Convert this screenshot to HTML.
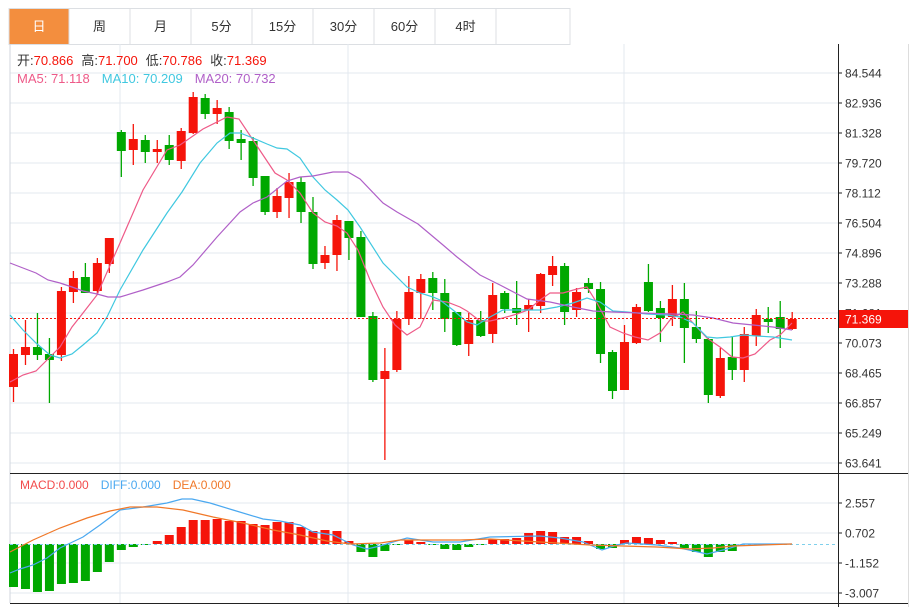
<!DOCTYPE html>
<html><head><meta charset="utf-8"><style>
body{margin:0;background:#fff;width:920px;height:607px;overflow:hidden;font-family:"Liberation Sans","Noto Sans CJK SC",sans-serif}
svg{position:absolute;left:0;top:0}
</style></head><body>
<svg id="s" width="920" height="607" xmlns="http://www.w3.org/2000/svg" font-family="Liberation Sans, Noto Sans CJK SC, sans-serif"></svg>
<script>
const S=document.getElementById('s');let h='';
const R='#f5140a',G='#00a800';
const tabs=['日','周','月','5分','15分','30分','60分','4时',''];
const tx=[9,69,130,191,252,313,374,435,496,570];
for(let i=0;i<9;i++){h+=`<rect x="${tx[i]}" y="8.5" width="${tx[i+1]-tx[i]}" height="36" fill="${i==0?'#f38e3e':'#fff'}" stroke="#dcdfe3"/>`;
h+=`<text x="${(tx[i]+tx[i+1])/2}" y="31" font-size="13" text-anchor="middle" fill="${i==0?'#fff':'#333'}">${tabs[i]}</text>`;}
for(let y=73;y<=463;y+=30)h+=`<line x1="10" x2="838" y1="${y}" y2="${y}" stroke="#e3e9ef"/>`;
for(const y of [503,533,563,593])h+=`<line x1="10" x2="838" y1="${y}" y2="${y}" stroke="#e3e9ef"/>`;
for(const x of [120,348,624])h+=`<line x1="${x}" x2="${x}" y1="44" y2="603" stroke="#e3e9ef"/>`;
h+=`<line x1="10" x2="10" y1="44" y2="603" stroke="#d0d6dc"/>`;
h+=`<line x1="10" x2="908" y1="473.5" y2="473.5" stroke="#222"/><line x1="10" x2="908" y1="603.5" y2="603.5" stroke="#222"/>`;
h+=`<line x1="838.5" x2="838.5" y1="44" y2="607" stroke="#222"/><line x1="908.5" x2="908.5" y1="44" y2="607" stroke="#ddd"/>`;
const pl=['84.544','82.936','81.328','79.720','78.112','76.504','74.896','73.288','71.681','70.073','68.465','66.857','65.249','63.641'];
pl.forEach((t,i)=>{const y=73+30*i;h+=`<line x1="838" x2="842" y1="${y}" y2="${y}" stroke="#222"/><text x="845" y="${y+4.5}" font-size="12" fill="#333">${t}</text>`});
[['2.557',503],['0.702',533],['-1.152',563],['-3.007',593]].forEach(([t,y])=>{h+=`<line x1="838" x2="842" y1="${y}" y2="${y}" stroke="#222"/><text x="845" y="${y+4.5}" font-size="12" fill="#333">${t}</text>`});
h+=`<text x="17" y="65" font-size="13"><tspan fill="#333">开:</tspan><tspan fill="${R}">70.866</tspan><tspan fill="#333" dx="8">高:</tspan><tspan fill="${R}">71.700</tspan><tspan fill="#333" dx="8">低:</tspan><tspan fill="${R}">70.786</tspan><tspan fill="#333" dx="8">收:</tspan><tspan fill="${R}">71.369</tspan></text>`;
h+=`<text x="17" y="83" font-size="13"><tspan fill="#ee5a88">MA5: 71.118</tspan><tspan dx="12" fill="#40c8e0">MA10: 70.209</tspan><tspan dx="12" fill="#b060c8">MA20: 70.732</tspan></text>`;
h+=`<text x="20" y="489" font-size="12"><tspan fill="#f24b4b">MACD:0.000</tspan><tspan dx="12" fill="#4aa8f0">DIFF:0.000</tspan><tspan dx="12" fill="#f07828">DEA:0.000</tspan></text>`;
const C=[['R',354,387,349,402],['R',347,355,320,365],['G',347,355,313,360],['G',354,360,338,403],['R',291,355,287,361],['R',278,292,271,303],['G',277,293,263,293],['R',263,291,258,295],['R',238,264,238,273],['G',132,151,130,177],
['R',139,150,124,165],['G',140,152,135,163],['R',149,152,140,163],['G',145,160,135,165],['R',131,161,128,169],['R',97,133,92,134],['G',98,114,94,119],['R',108,114,100,124],['G',112,141,107,149],['G',139,143,130,160],
['G',141,178,137,186],['G',176,212,176,215],['R',196,212,188,218],['R',182,198,173,218],['G',182,212,177,223],['G',212,264,197,269],['R',255,263,246,269],['R',220,255,215,271],['G',221,238,221,260],['G',237,317,231,317],
['G',316,380,312,382],['R',371,379,348,460],['R',319,370,311,372],['R',292,319,276,325],['R',279,293,274,319],['G',278,293,272,310],['G',293,319,279,332],['G',312,345,312,346],['R',320,344,313,356],['G',320,336,311,337],
['R',295,334,283,343],['G',293,309,291,313],['G',308,313,281,325],['R',305,310,299,332],['R',274,306,273,313],['R',266,275,256,286],['G',266,312,263,325],['R',292,310,288,317],['G',283,289,278,293],['G',289,354,282,363],
['G',352,391,350,399],['R',342,390,325,390],['R',307,343,304,344],['G',282,311,264,312],['G',308,318,301,342],['R',299,317,285,326],['G',299,328,283,363],['G',327,339,311,343],['G',339,395,338,403],['R',358,396,348,398],
['G',357,370,336,380],['R',334,370,327,382],['R',315,336,309,346],['G',319,322,307,333],['G',317,329,301,348],['R',319,329,312,330]];
const cx=i=>13.5+11.98*i;
C.forEach((c,i)=>{const col=c[0]=='R'?R:G,x=cx(i);h+=`<line x1="${x}" x2="${x}" y1="${c[3]}" y2="${c[4]}" stroke="${col}" stroke-width="1.3"/><rect x="${x-4.5}" y="${c[1]}" width="9" height="${Math.max(1.5,c[2]-c[1])}" fill="${col}"/>`;});
const pline=(pts,col,w)=>{h+=`<polyline fill="none" stroke="${col}" stroke-width="${w||1.2}" points="${pts.map(p=>p.join(',')).join(' ')}"/>`};
pline([[10,382],[23,375],[36,371],[48,359],[60,347],[72,327],[83,313],[97,295],[108,270],[120,243],[143,190],[167,150],[180,145],[203,129],[227,117],[239,119],[253,140],[275,173],[287,180],[300,193],[313,213],[325,222],[337,226],[347,233],[358,250],[370,280],[383,307],[395,325],[407,335],[420,327],[433,300],[447,302],[460,307],[467,311],[480,321],[490,321],[503,318],[517,314],[528,310],[540,300],[550,293],[563,293],[577,289],[587,287],[597,303],[610,327],[623,333],[635,337],[648,340],[660,333],[670,320],[683,312],[693,323],[707,338],[720,347],[732,357],[743,358],[755,354],[770,340],[780,335],[792,323]],'#ee5a88');
pline([[10,315],[23,330],[36,343],[50,355],[60,358],[72,354],[83,345],[97,333],[107,317],[120,290],[143,250],[167,213],[182,192],[200,163],[217,143],[230,133],[240,133],[253,138],[267,144],[277,148],[287,149],[300,158],[313,177],[325,190],[337,200],[348,210],[360,227],[383,263],[407,287],[420,293],[433,297],[440,300],[453,310],[467,322],[477,325],[490,317],[503,310],[540,310],[557,307],[573,303],[587,298],[600,302],[613,311],[627,312],[647,314],[667,315],[680,317],[693,323],[707,337],[717,338],[730,337],[743,335],[757,336],[773,337],[792,340]],'#40c8e0');
pline([[10,263],[23,268],[36,273],[48,280],[60,283],[72,287],[83,291],[97,294],[108,297],[120,297],[143,290],[167,282],[180,277],[193,265],[217,237],[240,212],[253,203],[267,197],[287,181],[300,177],[313,176],[333,172],[348,172],[360,179],[383,203],[397,212],[418,224],[443,245],[457,257],[480,275],[500,285],[527,299],[550,302],[573,307],[593,311],[613,312],[640,313],[673,314],[693,315],[713,318],[733,323],[753,325],[773,327],[792,330]],'#b060c8');
h+=`<line x1="10" x2="838" y1="318.5" y2="318.5" stroke="${R}" stroke-dasharray="2,2"/>`;
h+=`<rect x="839" y="310" width="69" height="18" fill="${R}"/><text x="845" y="323.5" font-size="12" fill="#fff">71.369</text>`;
const M=[587,589,592,591,584,583,581,572,562,550,547,545,541,535,527,520,520,519,521,521,524,525,522,522,527,531,530,531,541,552,557,551,545,540,542,545,549,550,547,545,539,539,538,533,531,532,537,537,541,549,548,540,537,538,540,542,548,552,557,552,551,544,544,544,544,544];
M.forEach((v,i)=>{const x=cx(i);if(Math.abs(v-544)<1)return;const col=v<544?R:G;h+=`<rect x="${x-4.5}" y="${Math.min(v,544)}" width="9" height="${Math.abs(v-544)}" fill="${col}"/>`});
h+=`<line x1="10" x2="838" y1="544.5" y2="544.5" stroke="#7fd0ec" stroke-dasharray="3,3"/>`;
pline([[10,573],[20,569],[33,565],[47,558],[60,548],[83,537],[100,525],[120,510],[143,507],[167,503],[182,499],[192,499],[210,503],[233,510],[263,519],[280,521],[300,525],[313,532],[333,535],[353,545],[367,549],[380,546],[393,542],[407,538],[420,540],[433,542],[460,542],[490,537],[540,536],[560,538],[583,542],[602,550],[617,545],[627,543],[657,545],[680,548],[707,554],[727,549],[743,544],[792,544]],'#4aa8f0');
pline([[10,552],[33,540],[60,528],[87,518],[110,511],[130,507],[157,507],[183,510],[213,517],[243,523],[273,530],[300,535],[327,541],[350,544],[380,543],[400,540],[433,540],[460,540],[490,539],[523,541],[557,543],[590,545],[623,546],[657,547],[690,549],[713,548],[733,546],[792,544]],'#f07828');
S.innerHTML=h;
</script>
</body></html>
